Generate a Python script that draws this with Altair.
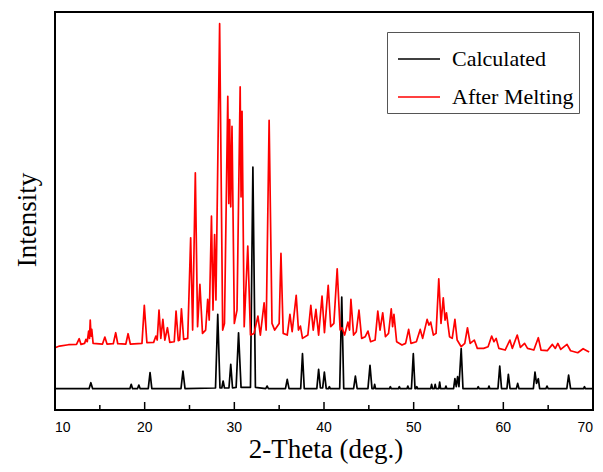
import altair as alt
import pandas as pd

# Calculated pattern: vertices (2-theta, intensity in arbitrary units)
calc_x = [10.0, 13.8, 14.0, 14.2, 18.35, 18.5, 18.65, 19.2, 19.35, 19.5, 20.4, 20.6, 20.8,
          24.05, 24.27, 24.5, 27.9, 28.15, 28.4, 28.6, 28.75, 28.9, 29.4, 29.6, 29.8,
          30.2, 30.47, 30.75, 31.8, 32.07, 32.35, 33.5, 33.66, 33.8, 35.7, 35.9, 36.1,
          37.4, 37.6, 37.8, 39.2, 39.4, 39.6, 39.85, 40.04, 40.25, 40.5, 40.6, 40.7,
          41.75, 41.98, 42.2, 43.3, 43.5, 43.7, 44.9, 45.13, 45.35, 45.55, 45.65, 45.75,
          47.3, 47.4, 47.5, 48.3, 48.4, 48.5, 49.25, 49.35, 49.45, 49.75, 49.96, 50.15,
          50.25, 50.35, 50.45, 51.9, 52.0, 52.1, 52.3, 52.4, 52.5, 52.8, 52.9, 53.0,
          53.5, 53.6, 53.7, 54.45, 54.6, 54.75, 54.9, 55.05, 55.3, 55.5, 57.1, 57.2, 57.3,
          58.3, 58.4, 58.5, 59.4, 59.6, 59.8, 60.4, 60.56, 60.75, 61.45, 61.6, 61.75,
          63.35, 63.53, 63.7, 63.9, 64.05, 64.75, 64.87, 65.0, 67.08, 67.28, 67.5,
          68.95, 69.05, 69.15, 70.0]
calc_y = [64, 64, 82, 64, 64, 77, 64, 64, 75, 64, 64, 112, 64,
          64, 117, 64, 66, 287, 66, 66, 87, 66, 66, 137, 66,
          68, 232, 68, 68, 729, 68, 64, 72, 64, 64, 92, 64,
          64, 169, 64, 64, 122, 66, 66, 114, 64, 64, 70, 64,
          64, 339, 64, 64, 102, 64, 64, 134, 64, 64, 77, 64,
          64, 70, 64, 64, 70, 64, 64, 72, 64, 64, 169, 64,
          64, 70, 64, 64, 77, 64, 64, 77, 64, 64, 84, 64,
          64, 72, 64, 64, 94, 70, 100, 70, 184, 64, 64, 70, 64,
          64, 72, 64, 64, 132, 64, 64, 107, 64, 64, 80, 64,
          64, 114, 80, 94, 64, 64, 72, 64, 64, 105, 64,
          64, 70, 64, 64]

# After melting pattern: vertices (2-theta, intensity)
melt_x = [10.0, 10.5, 11.5, 12.4, 12.7, 12.9, 13.3, 13.45, 13.6, 13.75, 13.85, 13.93, 14.02,
          14.1, 14.25, 15.3, 15.56, 15.8, 16.5, 16.77, 17.0, 17.9, 18.15, 18.4, 19.7, 19.96,
          20.25, 21.0, 21.25, 21.4, 21.6, 21.8, 22.03, 22.25, 22.54, 22.8, 23.3, 23.5, 23.75,
          23.9, 24.1, 24.35, 24.8, 25.13, 25.35, 25.65, 25.9, 26.16, 26.45, 26.8, 27.03, 27.2,
          27.45, 27.62, 27.8, 27.95, 28.36, 28.7, 28.9, 29.27, 29.38, 29.48, 29.6, 29.74, 30.0,
          30.3, 30.65, 30.75, 30.86, 31.1, 31.5, 31.8, 32.2, 32.63, 32.9, 33.32, 33.55, 33.88,
          34.2, 34.5, 35.0, 35.2, 35.45, 35.9, 36.2, 36.45, 36.9, 37.15, 37.37, 37.6, 38.2,
          38.53, 38.8, 39.1, 39.4, 39.78, 40.05, 40.47, 40.75, 41.1, 41.47, 41.8, 42.0, 42.3,
          42.67, 42.85, 43.0, 43.3, 43.6, 43.9, 44.2, 44.6, 44.9, 45.2, 45.7, 46.0, 46.25,
          46.55, 46.85, 47.2, 47.5, 47.65, 47.8, 48.1, 48.7, 49.1, 49.44, 49.7, 50.3, 50.73,
          51.0, 51.5, 51.7, 51.9, 52.2, 52.5, 52.8, 53.05, 53.3, 53.5, 53.66, 54.0, 54.3,
          54.6, 54.85, 55.3, 55.7, 56.0, 56.3, 56.76, 57.1, 57.8, 58.3, 58.7, 58.95, 59.2,
          59.5, 60.2, 60.73, 61.0, 61.55, 61.9, 62.37, 62.7, 63.4, 63.9, 64.2, 64.9, 65.47,
          65.8, 66.08, 66.4, 67.1, 67.5, 68.3, 68.9, 69.3, 69.57]
melt_y = [187, 192, 196, 197, 214, 197, 200, 212, 205, 237, 215, 270, 222,
          242, 200, 198, 219, 198, 199, 232, 199, 198, 229, 198, 200, 314,
          202, 203, 222, 210, 300, 215, 272, 210, 247, 203, 205, 297, 208,
          210, 304, 212, 215, 517, 240, 712, 250, 377, 230, 240, 332, 270,
          582, 300, 527, 330, 1160, 240, 260, 942, 620, 872, 610, 852, 260,
          300, 970, 640, 897, 250, 492, 225, 230, 282, 225, 322, 240, 870,
          260, 240, 260, 470, 230, 225, 287, 235, 344, 240, 252, 215, 225,
          314, 240, 302, 225, 342, 232, 374, 250, 260, 424, 240, 247, 225,
          264, 240, 332, 225, 235, 300, 215, 220, 237, 205, 210, 297, 240,
          292, 220, 230, 304, 250, 287, 205, 195, 200, 242, 200, 205, 242,
          215, 272, 255, 264, 225, 230, 394, 260, 337, 270, 292, 220, 215,
          272, 210, 190, 200, 247, 200, 210, 185, 185, 190, 222, 205, 215,
          185, 180, 210, 185, 225, 188, 200, 185, 180, 217, 180, 178, 197,
          185, 200, 182, 197, 178, 172, 184, 178, 174]

series_names = ["Calculated", "After Melting"]
series_colors = ["#000000", "#ff0000"]
major_ticks = [10, 20, 30, 40, 50, 60, 70]
minor_ticks = [15, 25, 35, 45, 55, 65]
x_range = [10, 70]
y_range = [0, 1195]
x_title = "2-Theta (deg.)"
y_title = "Intensity"

rows = []
for i, (a, b) in enumerate(zip(calc_x, calc_y)):
    rows.append({"theta": a, "intensity": b, "series": series_names[0], "idx": i})
for i, (a, b) in enumerate(zip(melt_x, melt_y)):
    rows.append({"theta": a, "intensity": b, "series": series_names[1], "idx": i})
df = pd.DataFrame(rows)

W, H = 538, 398
xscale = alt.Scale(domain=x_range, nice=False)
yscale = alt.Scale(domain=y_range, nice=False, zero=False)

lines = alt.Chart(df).mark_line(strokeWidth=1.7, strokeJoin="round").encode(
    x=alt.X("theta:Q", scale=xscale, axis=None),
    y=alt.Y("intensity:Q", scale=yscale, axis=None),
    color=alt.Color("series:N", sort=series_names,
                    scale=alt.Scale(domain=series_names, range=series_colors),
                    legend=alt.Legend(title=None, orient="none", legendX=332, legendY=20,
                                      symbolType="stroke", symbolSize=1764,
                                      symbolStrokeWidth=1.5, symbolOffset=5,
                                      labelFont="Liberation Serif", labelFontSize=22,
                                      labelColor="#000", labelOffset=11,
                                      rowPadding=5, padding=5,
                                      strokeColor="#555", fillColor="white")),
    detail="series:N",
    order="idx:Q",
)

major_df = pd.DataFrame({"t": major_ticks, "lab": [str(v) for v in major_ticks]})
minor_df = pd.DataFrame({"t": minor_ticks})

major = alt.Chart(major_df).mark_rule(color="#000", strokeWidth=1.5).encode(
    x=alt.X("t:Q", scale=xscale, axis=None), y=alt.value(H), y2=alt.value(H - 8))
minor = alt.Chart(minor_df).mark_rule(color="#000", strokeWidth=1.5).encode(
    x=alt.X("t:Q", scale=xscale, axis=None), y=alt.value(H), y2=alt.value(H - 5))

# tick labels as text through the x scale
lab_style = dict(font="Liberation Sans", fontSize=14, color="#000", baseline="alphabetic")
labels_mid = alt.Chart(major_df.iloc[1:-1]).mark_text(align="center", **lab_style).encode(
    x=alt.X("t:Q", scale=xscale, axis=None), y=alt.value(H + 22), text="lab:N")
labels_first = alt.Chart(major_df.iloc[:1]).mark_text(align="left", **lab_style).encode(
    x=alt.X("t:Q", scale=xscale, axis=None), y=alt.value(H + 22), text="lab:N")
labels_last = alt.Chart(major_df.iloc[-1:]).mark_text(align="right", **lab_style).encode(
    x=alt.X("t:Q", scale=xscale, axis=None), y=alt.value(H + 22), text="lab:N")

# axis titles
xt = alt.Chart(pd.DataFrame({"s": [x_title]})).mark_text(
    font="Liberation Serif", fontSize=27, color="#000", align="center", baseline="alphabetic"
).encode(x=alt.value(W / 2 + 2), y=alt.value(H + 48), text="s:N")
yt = alt.Chart(pd.DataFrame({"s": [y_title]})).mark_text(
    font="Liberation Serif", fontSize=27, color="#000", align="center",
    baseline="alphabetic", angle=270
).encode(x=alt.value(-19), y=alt.value(208), text="s:N")

# plot frame drawn through the scales
frame_df = pd.DataFrame({
    "x1": [x_range[0], x_range[0], x_range[1], x_range[0]],
    "x2": [x_range[1], x_range[0], x_range[1], x_range[1]],
    "y1": [y_range[1], y_range[0], y_range[0], y_range[0]],
    "y2": [y_range[1], y_range[1], y_range[1], y_range[0]],
})
frame = alt.Chart(frame_df).mark_rule(color="#000", strokeWidth=2).encode(
    x=alt.X("x1:Q", scale=xscale, axis=None), x2="x2:Q",
    y=alt.Y("y1:Q", scale=yscale, axis=None), y2="y2:Q",
)

chart = alt.layer(lines, major, minor, labels_mid, labels_first, labels_last,
                  xt, yt, frame).properties(
    width=W, height=H,
    padding={"left": 47, "top": 4, "right": 2, "bottom": 55},
    autosize=alt.AutoSizeParams(type="none"),
    background="white",
).configure_view(stroke="#000", strokeWidth=2)

chart.save("out.html", embed_options={"renderer": "svg", "actions": False})
